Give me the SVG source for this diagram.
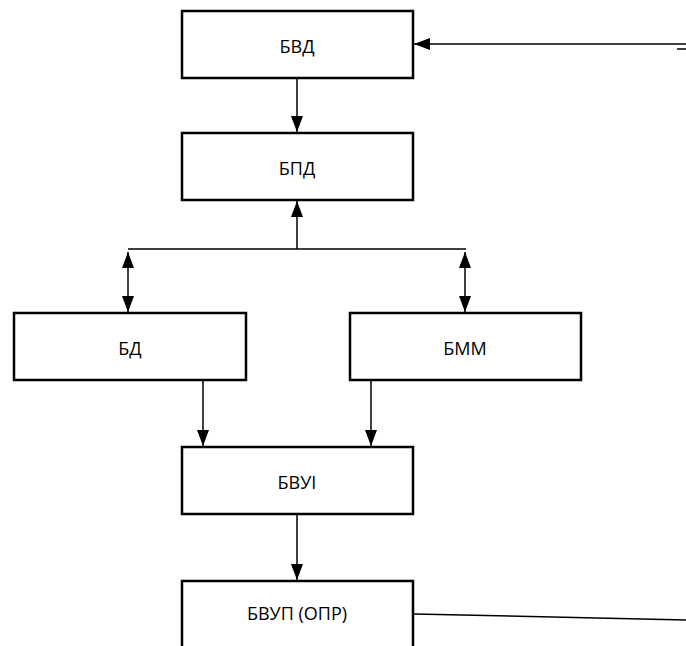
<svg xmlns="http://www.w3.org/2000/svg" width="686" height="646" viewBox="0 0 686 646">
<defs>
<marker id="ahl" viewBox="0 0 16 12" refX="16" refY="6" markerWidth="16" markerHeight="12" markerUnits="userSpaceOnUse" orient="auto-start-reverse">
<path d="M0,0 L16,6 L0,12 Z" fill="#000"/>
</marker>
</defs>
<style>
.box{fill:#fff;stroke:#000;stroke-width:2.5;}
.lbl{font-family:"Open Sans","Liberation Sans",sans-serif;font-size:18px;fill:#000;text-anchor:middle;dominant-baseline:central;}
.c{fill:none;stroke:#000;stroke-width:1.5;}
</style>
<rect width="686" height="646" fill="#fff"/>
<g id="connectors">
<line class="c" x1="686" y1="44" x2="414" y2="44" marker-end="url(#ahl)"/>
<line class="c" x1="677" y1="49" x2="686" y2="49"/>
<line class="c" x1="297" y1="79" x2="297" y2="132" marker-end="url(#ahl)"/>
<line class="c" x1="297" y1="249" x2="297" y2="201" marker-end="url(#ahl)"/>
<line class="c" x1="128" y1="249" x2="466" y2="249"/>
<line class="c" x1="128" y1="252" x2="128" y2="312" marker-start="url(#ahl)" marker-end="url(#ahl)"/>
<line class="c" x1="465" y1="252" x2="465" y2="312" marker-start="url(#ahl)" marker-end="url(#ahl)"/>
<line class="c" x1="203" y1="381" x2="203" y2="446" marker-end="url(#ahl)"/>
<line class="c" x1="371" y1="381" x2="371" y2="446" marker-end="url(#ahl)"/>
<line class="c" x1="297" y1="515" x2="297" y2="580" marker-end="url(#ahl)"/>
<line class="c" x1="414" y1="614" x2="686" y2="620"/>
</g>
<g id="bvd"><rect class="box" x="182" y="11" width="231" height="67"/><text class="lbl" x="297" y="46">БВД</text></g>
<g id="bpd"><rect class="box" x="182" y="133" width="231" height="67"/><text class="lbl" x="297" y="168">БПД</text></g>
<g id="bd"><rect class="box" x="14" y="313" width="232" height="67"/><text class="lbl" x="130" y="348">БД</text></g>
<g id="bmm"><rect class="box" x="350" y="313" width="231" height="67"/><text class="lbl" x="465" y="348">БММ</text></g>
<g id="bvui"><rect class="box" x="182" y="447" width="231" height="67"/><text class="lbl" x="297" y="482">БВУІ</text></g>
<g id="bvup"><rect class="box" x="182" y="581" width="231" height="80"/><text class="lbl" x="297" y="613">БВУП (ОПР)</text></g>
</svg>
